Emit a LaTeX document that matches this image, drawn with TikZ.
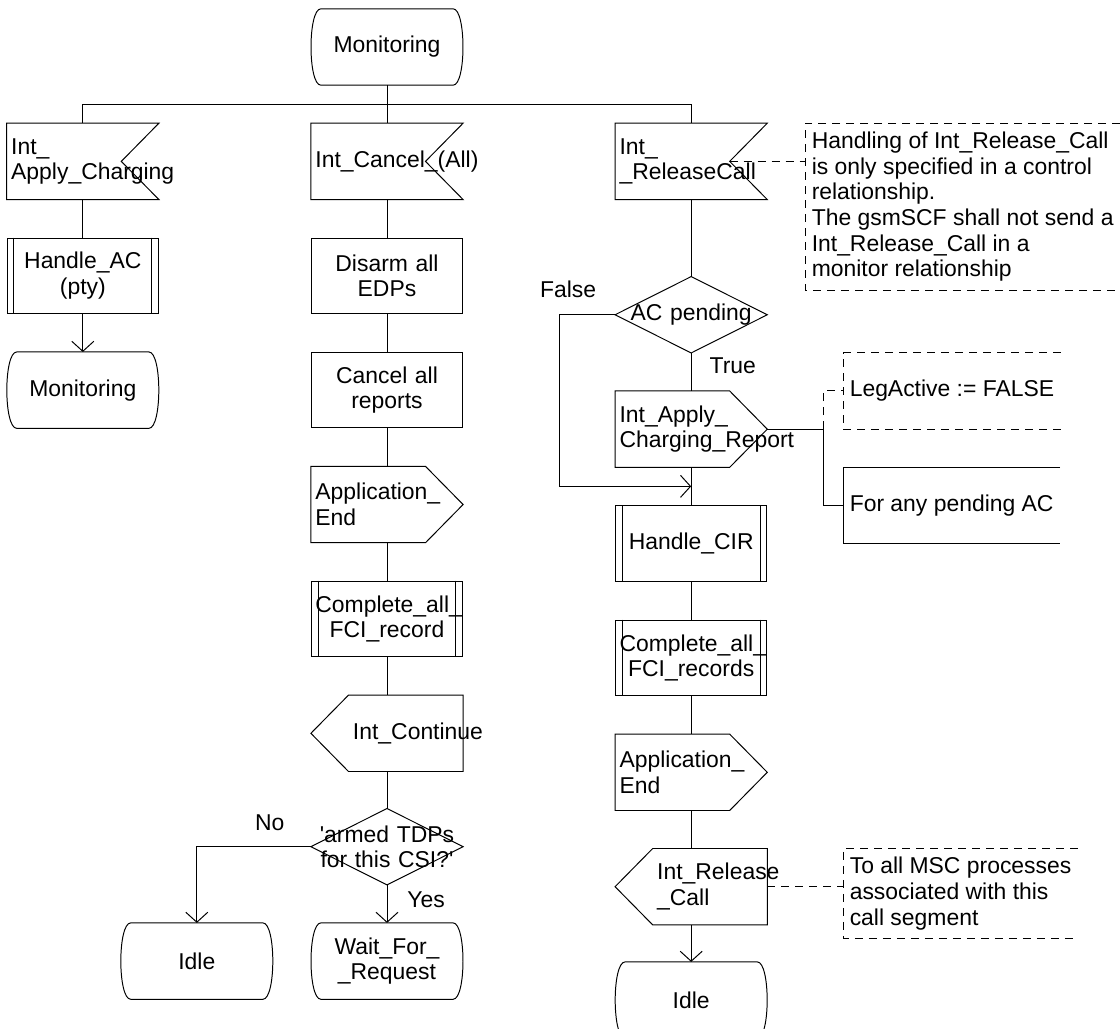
\documentclass[tikz,border=0pt]{standalone}
\usepackage{fontspec}
\setmainfont{Liberation Sans}
\usepackage{tikz}
\usetikzlibrary{arrows.meta,positioning}
\hyphenpenalty=10000
\exhyphenpenalty=10000
\tikzset{
  base/.style={rectangle, minimum width=3.78cm, minimum height=1.885cm, text width=3.58cm,
               inner xsep=0.1cm, inner ysep=0pt, align=center,
               font=\fontsize{16.3}{18.3}\selectfont},
  task/.style={base, draw},
  proc/.style={base, draw, append after command={\pgfextra{
      \draw ([xshift=0.18cm]\tikzlastnode.north west) -- ([xshift=0.18cm]\tikzlastnode.south west)
            ([xshift=-0.18cm]\tikzlastnode.north east) -- ([xshift=-0.18cm]\tikzlastnode.south east);}}},
  state/.style={base, append after command={\pgfextra{
      \draw ([xshift=0.25cm]\tikzlastnode.north west) -- ([xshift=-0.25cm]\tikzlastnode.north east)
            .. controls ([xshift=0.08cm]\tikzlastnode.north east) and ([xshift=0.08cm]\tikzlastnode.south east)
            .. ([xshift=-0.25cm]\tikzlastnode.south east) -- ([xshift=0.25cm]\tikzlastnode.south west)
            .. controls ([xshift=-0.08cm]\tikzlastnode.south west) and ([xshift=-0.08cm]\tikzlastnode.north west)
            .. ([xshift=0.25cm]\tikzlastnode.north west) -- cycle;}}},
  dec/.style={base, append after command={\pgfextra{
      \draw (\tikzlastnode.north) -- (\tikzlastnode.east) -- (\tikzlastnode.south)
            -- (\tikzlastnode.west) -- cycle;}}},
  inp/.style={base, align=left, append after command={\pgfextra{
      \draw (\tikzlastnode.north west) -- (\tikzlastnode.north east) -- ([xshift=-0.94cm]\tikzlastnode.east)
            -- (\tikzlastnode.south east) -- (\tikzlastnode.south west) -- cycle;}}},
  outr/.style={base, align=left, append after command={\pgfextra{
      \draw (\tikzlastnode.north west) -- ([xshift=-0.94cm]\tikzlastnode.north east) -- (\tikzlastnode.east)
            -- ([xshift=-0.94cm]\tikzlastnode.south east) -- (\tikzlastnode.south west) -- cycle;}}},
  outl/.style={base, align=left, minimum width=2.84cm, text width=2.64cm, append after command={\pgfextra{
      \draw (\tikzlastnode.north west) -- (\tikzlastnode.north east) -- (\tikzlastnode.south east)
            -- (\tikzlastnode.south west) -- ([xshift=-0.94cm]\tikzlastnode.west) -- cycle;}}},
  cmt/.style={dash pattern=on 0.2cm off 0.15cm},
  note/.style={inner xsep=0.15cm, inner ysep=0.2cm, minimum height=1.885cm, align=left,
               font=\fontsize{16.3}{18.3}\selectfont, append after command={\pgfextra{
      \draw[#1] (\tikzlastnode.north east) -- (\tikzlastnode.north west) -- (\tikzlastnode.south west)
            -- (\tikzlastnode.south east);}}},
  note/.default=cmt,
  lbl/.style={inner sep=0pt, font=\fontsize{16.3}{18.3}\selectfont},
  arr/.style={-{Straight Barb[length=0.25cm, width=0.55cm]}}
}

\begin{document}
\begin{tikzpicture}[node distance=0.95cm, line width=0.7pt]
  \useasboundingbox (-9.675,-24.55) rectangle (18.325,1.175);
  \clip (-9.675,-24.55) rectangle (18.325,1.175);

  % start state and the three inputs
  \node[state] (mon) at (0,0) {Monitoring};
  \node[inp, below=of mon] (inCan) {Int\_Cancel\_(All)};
  \node[inp, left=3.8cm of inCan] (inAC) {Int\_\\Apply\_Charging};
  \node[inp, right=3.8cm of inCan] (inRel) {Int\_\\\_ReleaseCall};

  % left branch
  \node[proc, below=of inAC] (hAC) {Handle\_AC\\(pty)};
  \node[state, below=of hAC] (mon2) {Monitoring};

  % middle branch
  \node[task, below=of inCan] (disarm) {Disarm all\\EDPs};
  \node[task, below=of disarm] (cancel) {Cancel all\\reports};
  \node[outr, below=of cancel] (appEnd) {Application\_\\End};
  \node[proc, below=of appEnd] (compl) {Complete\_all\_\\FCI\_record};
  \node[outl, below=of compl.south east, anchor=north east] (cont) {Int\_Continue};
  \node[dec, below=3.785cm of compl] (armed) {\textquotesingle armed TDPs\\for this CSI?\textquotesingle};
  \node[state, below=of armed] (wait) {Wait\_For\_\\\_Request};
  \node[state, left=of wait] (idle1) {Idle};

  % right branch
  \node[dec, below=1.925cm of inRel] (acp) {AC pending};
  \node[outr, below=of acp] (acr) {Int\_Apply\_\\Charging\_Report};
  \node[proc, below=of acr] (hCIR) {Handle\_CIR};
  \node[proc, below=of hCIR] (compl2) {Complete\_all\_\\FCI\_records};
  \node[outr, below=of compl2] (appEnd2) {Application\_\\End};
  \node[outl, below=of appEnd2.south east, anchor=north east] (rel) {Int\_Release\\\_Call};
  \node[state, below=3.785cm of appEnd2] (idle2) {Idle};

  % comments
  \node[note, anchor=north west] (cRel) at ([xshift=0.95cm]inRel.north east)
    {Handling of Int\_Release\_Call\\is only specified in a control\\relationship.\\The gsmSCF shall not send a\\Int\_Release\_Call in a\\monitor relationship};
  \coordinate[right=1.4cm of acr.east] (br);
  \node[note, anchor=south west] (cLeg) at ([xshift=1.9cm]acr.east) {LegActive := FALSE};
  \node[note=solid, anchor=north west] (cPend) at ([xshift=1.9cm]acr.south east) {For any pending AC};
  \node[note, anchor=north west] (cMsc) at ([xshift=1.9cm]rel.north east)
    {To all MSC processes\\associated with this\\call segment};

  % connections
  \draw (mon) -- (inCan);
  \coordinate[below=0.475cm of mon] (bus);
  \draw (inAC) |- (bus) -| (inRel);
  \draw (inAC) -- (hAC);
  \draw[arr] (hAC) -- (mon2);

  \draw (inCan) -- (disarm);
  \draw (disarm) -- (cancel);
  \draw (cancel) -- (appEnd);
  \draw (appEnd) -- (compl);
  \draw (compl) -- (compl |- cont.north);
  \draw (compl |- cont.south) -- (armed);
  \draw[arr] (armed) -- node[lbl, pos=.38, right=0.5cm] {Yes} (wait);
  \draw[arr] (armed) -| node[lbl, pos=.18, above=0.39cm] {No} (idle1);

  \draw (inRel) -- (acp);
  \draw (acp) -- node[lbl, pos=.33, right=0.45cm] {True} (acr);
  \coordinate[below=0.475cm of acr] (join);
  \draw (acr) -- (hCIR);
  \draw[arr] (acp.west) -- ++(-1.4,0) node[lbl, pos=.84, above=0.41cm] {False} |- (join);
  \draw (hCIR) -- (compl2);
  \draw (compl2) -- (appEnd2);
  \draw (appEnd2) -- (appEnd2 |- rel.north);
  \draw[arr] (appEnd2 |- rel.south) -- (idle2);

  \draw[cmt] ([xshift=-0.94cm]inRel.east) -- (inRel.east -| cRel.west);
  \draw (acr.east) -- (br);
  \draw[cmt] (br) |- (cLeg.west);
  \draw (br) |- (cPend.west);
  \draw[cmt] (rel.east) -- (rel.east -| cMsc.west);
\end{tikzpicture}
\end{document}
